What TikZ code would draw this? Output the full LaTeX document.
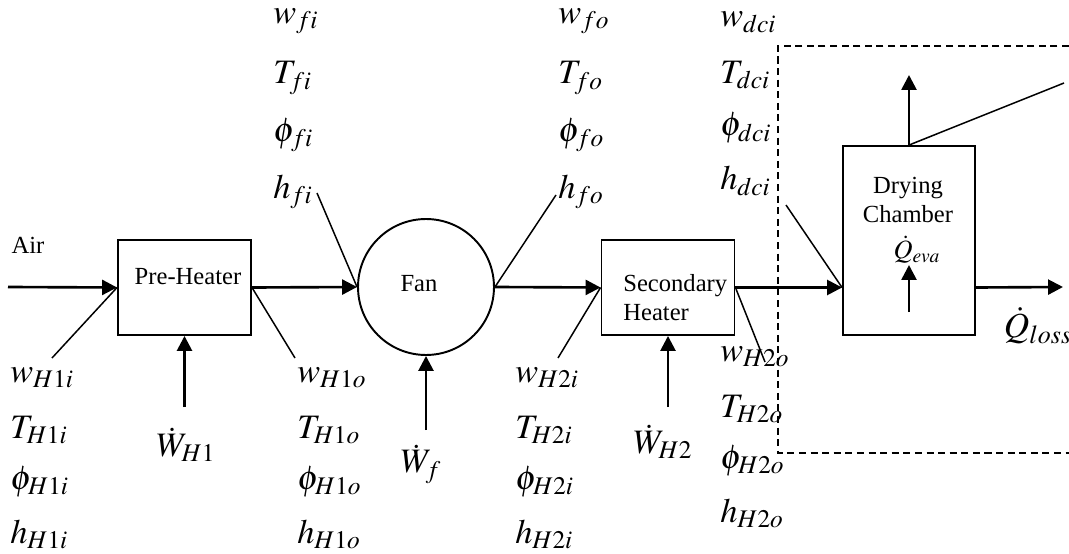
\documentclass[tikz,border=0pt]{standalone}
\usepackage{mathptmx}
\usepackage[no-math]{fontspec}
\setmainfont{Liberation Serif}
\usetikzlibrary{arrows.meta,positioning,calc}

\tikzset{
  unit/.style={draw,line width=1.1pt,minimum width=2.66cm,minimum height=1.9cm},
  flow/.style={line width=1.5pt,-{Triangle[length=8.5pt,width=8.5pt]}},
  tag/.style={line width=0.85pt},
  var/.style={anchor=west,inner sep=0pt,font=\fontsize{19.5}{22}\selectfont},
  boxtxt/.style={inner sep=0pt,font=\fontsize{14}{16.5}\selectfont},
  rim/.style={line width=0.9pt,dash pattern=on 4pt off 2.6pt}
}

\begin{document}
\begin{tikzpicture}[x=0.02cm,y=-0.02cm]
  \useasboundingbox (0,0) rectangle (1069,554);

  % units
  \node[unit] (pre) at (184.5,287.5) {};
  \node[boxtxt] (pretxt) at (188,277) {Pre-Heater};
  \node[draw,circle,line width=1.1pt,minimum size=2.72cm] (fan) at (426,287) {};
  \node[boxtxt] (fantxt) at (419,284) {Fan};
  \node[unit] (sh) at (668,287.5) {};
  \node[boxtxt,anchor=west,align=left] (shtxt) at (623,298) {Secondary\\Heater};
  \node[unit,minimum width=2.64cm,minimum height=3.78cm] (dc) at (909,240.5) {};
  \node[boxtxt,align=center] (dctxt) at (908,200) {Drying\\Chamber};

  % control volume
  \draw[rim] (1069,46) -- (778,46) -- (778,453) -- (1069,453);

  % air stream
  \node[boxtxt] (air) at (28,245) {Air};
  \coordinate (airin) at (8,287);
  \coordinate (lossend) at (1063,287);
  \draw[flow] (airin) -- (pre.west);
  \draw[flow] (pre.east) -- (fan.west);
  \draw[flow] (fan.east) -- (sh.west);
  \draw[flow] (sh.east) -- (sh.east -| dc.west);
  \draw[flow] (sh.east -| dc.east) -- (lossend);

  % state labels
  \foreach \id/\xx/\yy/\dy/\sb in {hai/10/378/52/H1i, hao/297/378/52/H1o,
      hbi/515/378/52/H2i, hbo/720/357/52/H2o, fni/273/21/57/fi,
      fno/558/21/57/fo, dci/720/22/53/dci}{
    \node[var] (\id-w) at (\xx,\yy) {$w_{\sb}$};
    \node[var] (\id-T) at (\xx,\yy+\dy) {$T_{\sb}$};
    \node[var] (\id-p) at (\xx,\yy+2*\dy) {$\phi_{\sb}$};
    \node[var] (\id-h) at (\xx,\yy+3*\dy) {$h_{\sb}$};
  }

  % pointers to states
  \coordinate (haiend) at (52,358);
  \coordinate (haoend) at (295,358);
  \coordinate (fniend) at (317,193);
  \coordinate (fnoend) at (556,195);
  \coordinate (hbiend) at (558,358);
  \coordinate (hboend) at (765,362);
  \coordinate (dciend) at (786,205);
  \draw[tag] (haiend) -- (pre.west);
  \draw[tag] (pre.east) -- (haoend);
  \draw[tag] (fniend) -- (fan.west);
  \draw[tag] (fan.east) -- (fnoend);
  \draw[tag] (hbiend) -- (sh.west);
  \draw[tag] (sh.east) -- (hboend);
  \draw[tag] (dciend) -- (sh.east -| dc.west);

  % work and heat
  \node[var,anchor=center] (wh1) at (186,445) {$\dot W_{H1}$};
  \node[var,anchor=center] (wf) at (421,464) {$\dot W_{f}$};
  \node[var,anchor=center] (wh2) at (663,442) {$\dot W_{H2}$};
  \coordinate (wh1in) at (184.5,407);
  \coordinate (wfin) at (426,430);
  \coordinate (wh2in) at (668,407);
  \draw[flow] (wh1in) -- (pre.south);
  \draw[flow] (wfin) -- (fan.south);
  \draw[flow] (wh2in) -- (sh.south);

  \node[var,anchor=center,font=\fontsize{15}{17}\selectfont] (qeva) at (917,250) {$\dot Q_{eva}$};
  \coordinate (qevain) at (909,312);
  \draw[flow] (qevain) -- ++(0,-47);
  \node[var,anchor=center,font=\fontsize{20}{22}\selectfont] (qloss) at (1038,326) {$\dot Q_{loss}$};

  \coordinate (vapout) at (909,75);
  \coordinate (vaptag) at (1064,83);
  \draw[flow] (dc.north) -- (vapout);
  \draw[tag] (dc.north) -- (vaptag);
\end{tikzpicture}
\end{document}
